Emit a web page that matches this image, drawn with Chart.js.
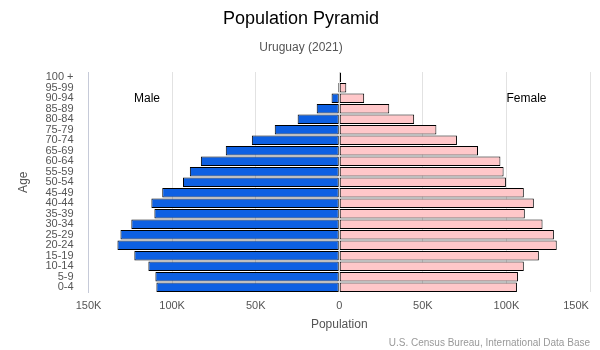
<!DOCTYPE html>
<html>
<head>
<meta charset="utf-8">
<script src="https://cdn.jsdelivr.net/npm/chart.js@4"></script>
<style>
  html, body { margin: 0; padding: 0; background: #fff; }
  #wrap { width: 600px; height: 350px; }
</style>
</head>
<body>
<div id="wrap"><canvas id="pyramid"></canvas></div>
<script>
var ageGroups = ['100 +', '95-99', '90-94', '85-89', '80-84', '75-79', '70-74', '65-69', '60-64',
  '55-59', '50-54', '45-49', '40-44', '35-39', '30-34', '25-29', '20-24', '15-19', '10-14', '5-9', '0-4'];
// thousands of people
var maleK = [0.3, 0.7, 4.6, 13.5, 24.9, 38.6, 52.3, 67.9, 82.8, 89.4, 93.5, 105.9, 112.4, 110.6,
  124.4, 130.9, 132.7, 122.6, 114.2, 110.0, 109.4];
var femaleK = [1.1, 4.2, 14.9, 29.9, 44.8, 58.1, 70.4, 83.0, 96.4, 98.3, 99.7, 110.4, 116.4, 111.0,
  121.6, 128.4, 130.1, 119.4, 110.4, 106.9, 106.3];
var xTicks = [-150000, -100000, -50000, 0, 50000, 100000, 150000];

var font = "'Liberation Sans', Arial, sans-serif";

var extraText = {
  id: 'extraText',
  afterDraw: function(chart) {
    var ctx = chart.ctx;
    var x = chart.scales.x, y = chart.scales.y;
    var area = chart.chartArea;
    ctx.save();
    ctx.fillStyle = '#000';
    ctx.font = '12px ' + font;
    ctx.textAlign = 'center';
    ctx.textBaseline = 'middle';
    ctx.fillText('Male', x.getPixelForValue(-115000), y.getPixelForValue(2));
    ctx.fillText('Female', x.getPixelForValue(112000), y.getPixelForValue(2));
    // last x tick label, pulled inside the canvas
    ctx.fillStyle = '#555';
    ctx.font = '11px ' + font;
    ctx.textBaseline = 'top';
    ctx.fillText('150K', x.getPixelForValue(150000) - 14, area.bottom + 8);
    ctx.fillStyle = '#999';
    ctx.font = '10px ' + font;
    ctx.textAlign = 'right';
    ctx.textBaseline = 'bottom';
    ctx.fillText('U.S. Census Bureau, International Data Base', area.right, chart.height - 2);
    ctx.restore();
  }
};

new Chart(document.getElementById('pyramid'), {
  type: 'bar',
  data: {
    labels: ageGroups,
    datasets: [{
      label: 'Male',
      data: maleK.map(function(v) { return -v * 1000; }),
      backgroundColor: '#0d60e3',
      borderColor: '#000',
      borderWidth: 1,
      borderSkipped: false,
      barPercentage: 0.9,
      categoryPercentage: 1
    }, {
      label: 'Female',
      data: femaleK.map(function(v) { return v * 1000; }),
      backgroundColor: '#ffc7c9',
      borderColor: '#000',
      borderWidth: 1,
      borderSkipped: false,
      barPercentage: 0.9,
      categoryPercentage: 1
    }]
  },
  options: {
    indexAxis: 'y',
    responsive: true,
    maintainAspectRatio: false,
    animation: false,
    layout: { padding: { left: 12, right: 10, bottom: 18 } },
    plugins: {
      legend: { display: false },
      tooltip: { enabled: false },
      title: {
        display: true,
        text: 'Population Pyramid',
        color: '#000',
        font: { family: font, size: 18, weight: 'normal' },
        padding: { top: 8, bottom: 11 }
      },
      subtitle: {
        display: true,
        text: 'Uruguay (2021)',
        color: '#555',
        font: { family: font, size: 12 },
        padding: { bottom: 17 }
      }
    },
    scales: {
      x: {
        stacked: true,
        min: -150000,
        max: 150000,
        afterBuildTicks: function(scale) {
          scale.ticks = xTicks.map(function(v) { return { value: v }; });
        },
        ticks: {
          color: '#555',
          font: { family: font, size: 11 },
          maxRotation: 0,
          padding: 7,
          callback: function(v) {
            if (v === 150000) return '';
            return v === 0 ? '0' : Math.abs(v) / 1000 + 'K';
          }
        },
        grid: { color: '#e2e2e2', drawTicks: false },
        border: { display: false },
        title: {
          display: true,
          text: 'Population',
          color: '#555',
          font: { family: font, size: 12 },
          padding: { top: -2, bottom: 0 }
        }
      },
      y: {
        stacked: true,
        ticks: {
          color: '#555',
          font: { family: font, size: 11 },
          autoSkip: false,
          padding: 15
        },
        grid: { display: false, drawTicks: false },
        border: { display: true, color: '#c6cad8' },
        title: {
          display: true,
          text: 'Age',
          color: '#555',
          font: { family: font, size: 12 },
          padding: { top: 4, bottom: 0 }
        }
      }
    }
  },
  plugins: [extraText]
});
</script>
</body>
</html>
